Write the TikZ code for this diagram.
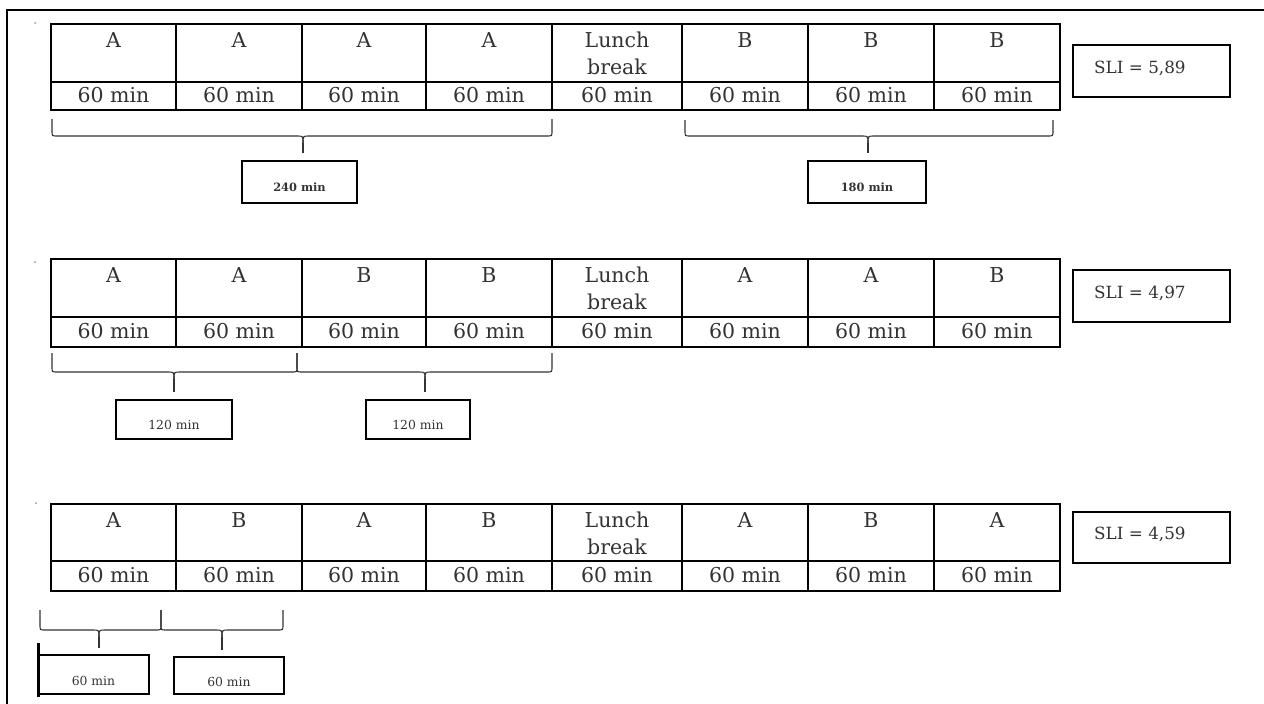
\documentclass[tikz,border=0pt]{standalone}
\usepackage{fontspec}
\setmainfont{DejaVu Serif}
\usepackage{tikz}
\begin{document}
\tikzset{
  frame/.style={line width=1.6pt},
  cellbox/.style={draw, line width=1.5pt, inner sep=0pt, outer sep=0pt, anchor=north west},
  celltext/.style={font=\fontsize{20.5}{27}\selectfont, text=black!80, align=center, inner sep=0pt},
  slibox/.style={draw, line width=1.6pt, minimum width=157pt, inner sep=0pt, outer sep=0pt, anchor=north west},
  slitext/.style={font=\fontsize{16.8}{20}\selectfont, anchor=west, inner sep=0pt, text=black!80},
  durbox/.style={draw, line width=1.5pt, inner sep=0pt, outer sep=0pt, anchor=north west},
  durtext/.style={font=\fontsize{12.4}{15}\selectfont, inner sep=0pt, text=black!80},
  durbold/.style={font=\fontsize{11.4}{14}\selectfont\bfseries, inner sep=0pt, text=black!80},
  brace/.style={line width=1.1pt, draw=black!80},
  speck/.style={fill=black!40, draw=none, circle, inner sep=0pt, minimum size=2pt},
}
\newcommand\schedrow[4]{%
  \foreach \lab [count=\i from 0] in \rowlabels {
    \pgfmathsetmacro\xl{{51,176,302,426,552,682,808,934}[\i]}
    \pgfmathsetmacro\xr{{176,302,426,552,682,808,934,1060}[\i]}
    \node[cellbox, minimum width=(\xr-\xl)*1pt, minimum height=(#3-#2)*1pt] (#1t\i) at (\xl,#2) {};
    \node[cellbox, minimum width=(\xr-\xl)*1pt, minimum height=(#4-#3)*1pt] (#1b\i) at (\xl,#3) {};
    \node[celltext, anchor=north] (#1l\i) at ([yshift=-8pt]#1t\i.north) {\lab};
    \node[celltext] (#1m\i) at ([yshift=0.5pt]#1b\i.center) {60 min};
  }
}
\newcommand\tbrace[6]{%
  \draw[brace] (#1,#4) -- (#1,#5-5) .. controls (#1,#5) .. (#1+5,#5) -- (#3-6,#5) .. controls (#3,#5) .. (#3,#5+7);
  \draw[brace] (#2,#4) -- (#2,#5-5) .. controls (#2,#5) .. (#2-5,#5) -- (#3+6,#5) .. controls (#3,#5) .. (#3,#5+7);
  \coordinate (#6) at (#3,#5+7);
}
\begin{tikzpicture}[x=1pt, y=-1pt]
  \useasboundingbox (0,0) rectangle (1264,704);
  \fill[white] (0,0) rectangle (1264,704);
  \draw[frame] (7,704) -- (7,10) -- (1264,10);

  % specks
  \node[speck] (s1) at (35,23) {};
  \node[speck] (s2) at (35,262) {};
  \node[speck] (s3) at (36,503) {};

  % row 1
  \def\rowlabels{A,A,A,A,{Lunch\\break},B,B,B}
  \schedrow{ra}{24}{82}{110}
  \node[slibox, minimum height=52pt] (sli1) at (1073,45) {};
  \node[slitext] (sli1t) at ([xshift=21pt,yshift=3pt]sli1.west) {SLI = 5,89};

  \node[durbox, minimum width=115pt, minimum height=42pt] (d1a) at (242,161) {};
  \node[durbold] at ([yshift=-5pt]d1a.center) {240 min};
  \node[durbox, minimum width=118pt, minimum height=42pt] (d1b) at (808,161) {};
  \node[durbold] at ([yshift=-5pt]d1b.center) {180 min};

  \tbrace{52}{552}{303}{119}{136}{b1a}
  \tbrace{685}{1053}{868}{120}{136}{b1b}
  \draw[brace, shorten >=8pt] (b1a) -- (b1a |- d1a.north);
  \draw[brace, shorten >=8pt] (b1b) -- (b1b |- d1b.north);

  % row 2
  \def\rowlabels{A,A,B,B,{Lunch\\break},A,A,B}
  \schedrow{rb}{259}{317}{347}
  \node[slibox, minimum height=52pt] (sli2) at (1073,270) {};
  \node[slitext] (sli2t) at ([xshift=21pt,yshift=3pt]sli2.west) {SLI = 4,97};

  \node[durbox, minimum width=116pt, minimum height=39pt] (d2a) at (116,400) {};
  \node[durtext] at ([yshift=-5pt]d2a.center) {120 min};
  \node[durbox, minimum width=104pt, minimum height=39pt] (d2b) at (366,400) {};
  \node[durtext] at ([yshift=-5pt]d2b.center) {120 min};

  \tbrace{52}{297}{174}{353}{372}{b2a}
  \tbrace{297}{552}{425}{353}{372}{b2b}
  \draw[brace, shorten >=8pt] (b2a) -- (b2a |- d2a.north);
  \draw[brace, shorten >=8pt] (b2b) -- (b2b |- d2b.north);

  % row 3
  \def\rowlabels{A,B,A,B,{Lunch\\break},A,B,A}
  \schedrow{rc}{504}{561}{591}
  \node[slibox, minimum height=51pt] (sli3) at (1073,512) {};
  \node[slitext] (sli3t) at ([xshift=21pt,yshift=3pt]sli3.west) {SLI = 4,59};

  \node[durbox, minimum width=111pt, minimum height=39pt] (d3a) at (38,655) {};
  \draw[line width=3pt] ([yshift=12pt]d3a.north west) -- ([yshift=-3pt]d3a.south west);
  \node[durtext] at ([yshift=-6pt]d3a.center) {60 min};
  \node[durbox, minimum width=110pt, minimum height=37pt] (d3b) at (174,657) {};
  \node[durtext] at ([yshift=-6pt]d3b.center) {60 min};

  \tbrace{40}{161}{99}{610}{630}{b3a}
  \tbrace{161}{283}{222}{610}{630}{b3b}
  \draw[brace, shorten >=7pt] (b3a) -- (b3a |- d3a.north);
  \draw[brace, shorten >=7pt] (b3b) -- (b3b |- d3b.north);
\end{tikzpicture}
\end{document}
